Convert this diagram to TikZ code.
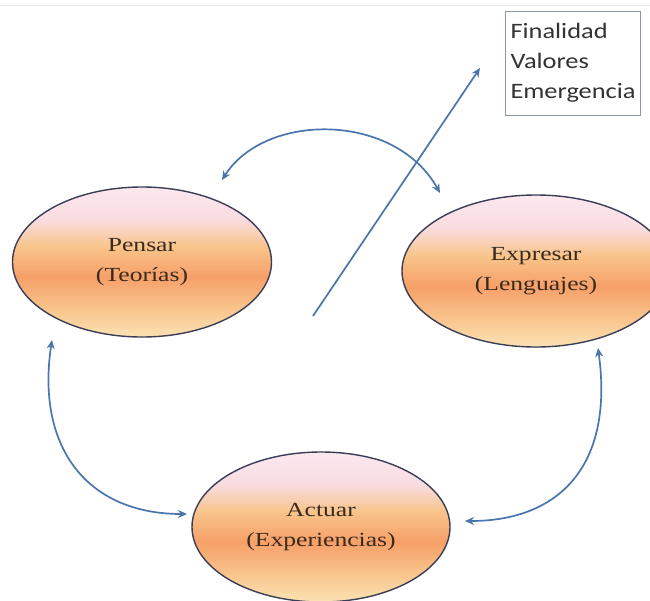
\documentclass[tikz,border=0pt]{standalone}
\usepackage{fontspec}
\setmainfont{Liberation Serif}
\newfontfamily\ovalfont[FakeStretch=1.28]{Liberation Serif}
\newfontfamily\boxfont[FakeStretch=1.2]{Carlito}
\usetikzlibrary{shapes.geometric,arrows.meta}
\definecolor{arrowblue}{HTML}{4A76AE}
\definecolor{ovaledge}{HTML}{3A3D55}
\definecolor{boxedge}{HTML}{8A96A6}
\definecolor{ovaltext}{HTML}{3A2A1E}
\definecolor{shA}{HTML}{FBE2B4}
\definecolor{shB}{HTML}{F9C992}
\definecolor{shC}{HTML}{F6A068}
\definecolor{shD}{HTML}{F8C48A}
\definecolor{shE}{HTML}{F9DCDF}
\definecolor{shF}{HTML}{FBE8F0}
\pgfdeclareverticalshading{ovalshade}{100bp}{%
  color(0bp)=(shA);
  color(25bp)=(shA);
  color(33bp)=(shB);
  color(45bp)=(shC);
  color(55bp)=(shD);
  color(64bp)=(shE);
  color(75bp)=(shF);
  color(100bp)=(shF)}
\tikzset{
  oval/.style={ellipse, draw=ovaledge, line width=1.4pt, inner sep=0pt,
    shading=ovalshade,
    font=\ovalfont\fontsize{20}{30}\selectfont, align=center, text=ovaltext},
  flow/.style={draw=arrowblue, line width=1.7pt, -{Stealth[length=9pt,width=8pt]}},
  flow2/.style={draw=arrowblue, line width=1.7pt, {Stealth[length=9pt,width=8pt]}-{Stealth[length=9pt,width=8pt]}},
  notebox/.style={draw=boxedge, line width=0.8pt, fill=white, align=left, inner sep=0pt,
    minimum width=135pt, minimum height=104pt, text width=124pt,
    font=\boxfont\fontsize{22}{30}\selectfont, text=black!80}
}
\begin{document}
\begin{tikzpicture}[x=1pt,y=-1pt]
\useasboundingbox (0,0) rectangle (650,600);
\fill[white] (0,0) rectangle (650,600);
\draw[black!8, line width=1pt] (0,5) -- (650,5);

\node[oval, minimum width=259pt, minimum height=150pt] (pensar) at (142,262) {Pensar\\(Teorías)};
\node[oval, minimum width=268pt, minimum height=152pt] (expresar) at (536,271) {Expresar\\(Lenguajes)};
\node[oval, minimum width=258pt, minimum height=150pt] (actuar) at (321,527) {Actuar\\(Experiencias)};

\node[notebox] (box) at (572.5,63) {Finalidad\\Valores\\Emergencia};

\coordinate (diagS) at (313,316);
\coordinate (diagE) at (480,68);
\coordinate (topL) at (222,180);
\coordinate (topR) at (440,193);
\coordinate (leftT) at (52,340);
\coordinate (leftB) at (187,514);
\coordinate (rightT) at (598,348);
\coordinate (rightB) at (465,521);

\draw[flow2] (topL) .. controls (265,112) and (395,112) .. (topR);
\draw[flow] (diagS) -- (diagE);
\draw[flow2] (leftT) .. controls (36,445) and (85,514) .. (leftB);
\draw[flow2] (rightT) .. controls (614,465) and (560,521) .. (rightB);
\end{tikzpicture}
\end{document}
